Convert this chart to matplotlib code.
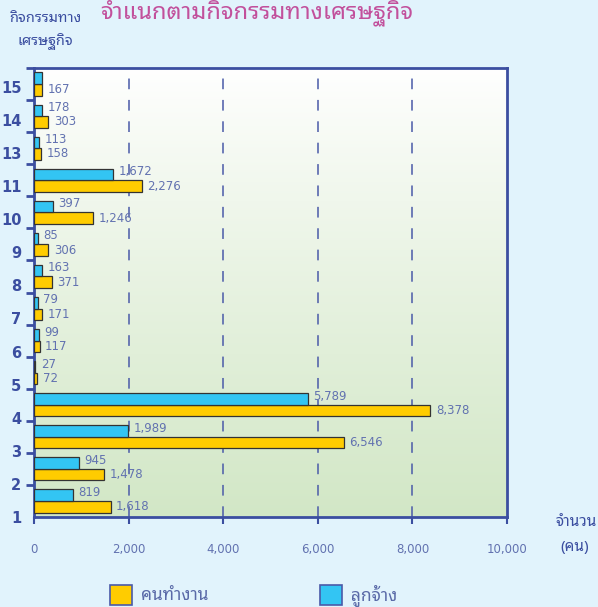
import matplotlib
matplotlib.use("Agg")
import matplotlib.pyplot as plt
import numpy as np
from matplotlib.patches import Rectangle

# ---- data ----
categories = ["1", "2", "3", "4", "5", "6", "7", "8", "9", "10", "11", "13", "14", "15"]
workers   = [1618, 1478, 6546, 8378, 72, 117, 171, 371, 306, 1246, 2276, 158, 303, 167]   # คนทำงาน
employees = [819, 945, 1989, 5789, 27, 99, 79, 163, 85, 397, 1672, 113, 178, 160]        # ลูกจ้าง
employee_label_shown = [True] * 13 + [False]
xticks = [0, 2000, 4000, 6000, 8000, 10000]

THAI = ['Noto Sans Thai Looped', 'DejaVu Sans']
NUM = ['DejaVu Sans']
c_axis = '#3b4ea0'
c_text = '#6272b0'
c_yellow = '#ffcc00'
c_blue = '#33c5f3'

fig = plt.figure(figsize=(5.98, 6.07), dpi=100, facecolor='#e1f3fc')
W, H = 598, 607
ax = fig.add_axes([34 / W, 1 - 517 / H, (507 - 34) / W, (517 - 68) / H])

n = len(categories)
y = np.arange(n)
h = 0.36
ax.barh(y - 0.18, workers, height=h, color=c_yellow, edgecolor='#333333', linewidth=0.9, zorder=3)
ax.barh(y + 0.18, employees, height=h, color=c_blue, edgecolor='#333333', linewidth=0.9, zorder=3)

for i in range(n):
    ax.annotate(f"{workers[i]:,}", (workers[i], y[i] - 0.18), xytext=(4, 0), textcoords='offset points',
                ha='left', va='center', fontsize=8.5, color=c_text, family=NUM, zorder=5)
    if employee_label_shown[i]:
        ax.annotate(f"{employees[i]:,}", (employees[i], y[i] + 0.18), xytext=(4, 2), textcoords='offset points',
                    ha='left', va='center', fontsize=8.5, color=c_text, family=NUM, zorder=5)

ax.set_xlim(0, 10000)
ax.set_ylim(-0.5, n - 0.5)

# gradient background of plot area
grad = np.linspace(0, 1, 256).reshape(-1, 1) ** 0.9
top = np.array([1.0, 1.0, 1.0])
bot = np.array([0xd2, 0xe7, 0xc6]) / 255
img = top + (bot - top) * grad[..., None]
ax.imshow(img.reshape(256, 1, 3), extent=[0, 1, 0, 1], transform=ax.transAxes,
          aspect='auto', zorder=0)
ax.set_facecolor('white')

# grid
for xv in xticks[1:-1]:
    ax.axvline(xv, color='#4a5aa8', linewidth=1.1, linestyle=(0, (7, 7)), zorder=1)

for s in ax.spines.values():
    s.set_color(c_axis)
    s.set_linewidth(2)

ax.set_xticks(xticks)
ax.set_xticklabels([f"{v:,}" for v in xticks], family=NUM, fontsize=8.5, color=c_text)
ax.tick_params(axis='x', length=5, width=1.5, color=c_axis, pad=14, direction='out')

# y ticks at group boundaries, labels drifting like the reference
ax.set_yticks(np.arange(-0.5, n, 1.0), minor=True)
ax.tick_params(axis='y', which='minor', length=6, width=2, color=c_axis, direction='out')
label_pos = y - 0.5 * ((n - 1 - y) / (n - 1)) ** 0.8 - 0.1 * (y / (n - 1)) ** 4
ax.set_yticks(label_pos)
ax.set_yticklabels(categories, family=NUM, fontsize=10.5, fontweight='bold', color=c_axis)
ax.tick_params(axis='y', which='major', length=0, pad=9)

# title and axis headers
fig.text(100 / W, 1 - 18 / H, "จำแนกตามกิจกรรมทางเศรษฐกิจ", family=THAI, fontsize=17,
         color='#c2509c', ha='left', va='baseline')
fig.text(45 / W, 1 - 18 / H, "กิจกรรมทาง", family=THAI, fontsize=10.5, fontweight='bold',
         color=c_axis, ha='center', va='center')
fig.text(45 / W, 1 - 42 / H, "เศรษฐกิจ", family=THAI, fontsize=10.5, fontweight='bold',
         color=c_axis, ha='center', va='center')
fig.text(576 / W, 1 - 523 / H, "จำนวน", family=THAI, fontsize=11, fontweight='bold',
         color=c_axis, ha='center', va='center')
fig.text(575 / W, 1 - 548 / H, "(คน)", family=THAI, fontsize=11, fontweight='bold',
         color=c_axis, ha='center', va='center')

# legend
for (x0, col, txt) in [(110, c_yellow, "คนทำงาน"), (320, c_blue, "ลูกจ้าง")]:
    fig.patches.append(Rectangle((x0 / W, 1 - 605 / H), 22 / W, 20 / H, transform=fig.transFigure,
                                 facecolor=col, edgecolor='#4a5aa8', linewidth=1.2))
    fig.text((x0 + 31) / W, 1 - 595 / H, txt, family=THAI, fontsize=12.5, color='#5a6aa8',
             ha='left', va='center')

fig.savefig("out.png", facecolor=fig.get_facecolor())
